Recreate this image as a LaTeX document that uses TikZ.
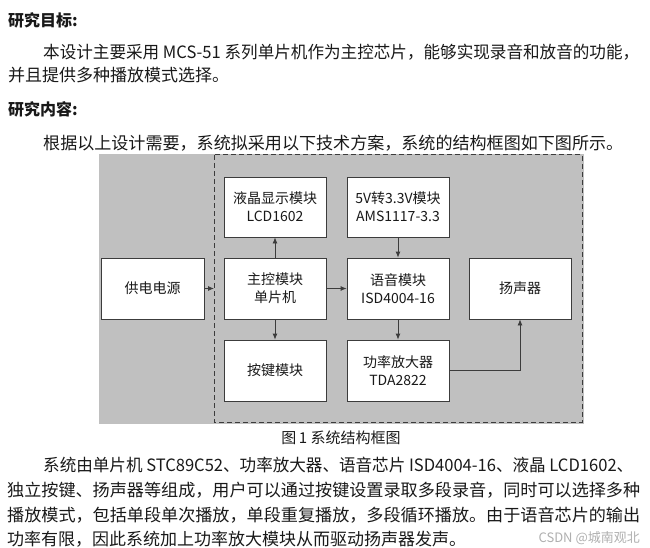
\documentclass[tikz,border=0pt]{standalone}
\usepackage{fontspec}
\usepackage{graphicx}
\setmainfont{Noto Sans CJK SC}
\usetikzlibrary{arrows.meta}
\definecolor{bggray}{RGB}{192,192,192}
\definecolor{linegray}{RGB}{60,60,60}
\definecolor{txt}{RGB}{25,25,25}
\definecolor{wm}{RGB}{175,175,175}
\tikzset{
  para/.style={anchor=west, inner sep=0pt, text=txt, font=\fontsize{17}{19}\selectfont},
  head/.style={anchor=west, inner sep=0pt, text=txt, font=\fontsize{16}{18}\selectfont\bfseries},
  blk/.style={draw=linegray, line width=0.8pt, fill=white, minimum width=102pt, minimum height=61pt,
    inner sep=0pt, align=center, text=txt, font=\fontsize{14}{18}\selectfont},
  arr/.style={draw=linegray, line width=0.8pt, -{Latex[length=6pt,width=5pt]}},
}
\newcommand{\jline}[2]{\resizebox{#1}{\height}{#2}}
\begin{document}
\begin{tikzpicture}[x=1pt,y=-1pt]
\useasboundingbox (0,0) rectangle (650,548);
% text top
\node[head] (h1) at (8,20) {研究目标:};
\node[para] (p1) at (43,52) {\jline{596pt}{本设计主要采用 MCS-51 系列单片机作为主控芯片，能够实现录音和放音的功能，}};
\node[para] (p2) at (8,75) {并且提供多种播放模式选择。};
\node[head] (h2) at (8,109) {研究内容:};
\node[para] (p3) at (43,143) {\jline{580pt}{根据以上设计需要，系统拟采用以下技术方案，系统的结构框图如下图所示。}};
% diagram background
\fill[bggray] (99,154) rectangle (584,424);
\draw[linegray, line width=1pt, dash pattern=on 5pt off 3pt] (214,155) rectangle (582,422);
\coordinate (dw) at (214,288.5);
% blocks
\node[blk, minimum width=103pt] (psu) at (152.5,288.5) {供电电源};
\node[blk] (mcu) at (275,288.5) {主控模块\\单片机};
\node[blk, minimum height=60pt] (lcd) at (275,207) {液晶显示模块\\LCD1602};
\node[blk, minimum height=60pt] (pwr) at (398,207) {5V转3.3V模块\\AMS1117-3.3};
\node[blk] (voice) at (398,288.5) {语音模块\\ISD4004-16};
\node[blk] (spk) at (520,288.5) {扬声器};
\node[blk] (key) at (275,370.5) {按键模块};
\node[blk] (amp) at (398,370.5) {功率放大器\\TDA2822};
% connectors
\draw[arr] (psu.east) -- (dw);
\draw[arr] (mcu.east) -- (voice.west);
\draw[arr] (mcu.north) -- (lcd.south);
\draw[arr] (mcu.south) -- (key.north);
\draw[arr] (pwr.south) -- (voice.north);
\draw[arr] (voice.south) -- (amp.north);
\draw[arr] (amp.east) -| (spk.south);
% caption and bottom text
\node[para, anchor=center, font=\fontsize{15}{17}\selectfont] (cap) at (341,438) {图\,1 系统结构框图};
\node[para] (q1) at (43,465) {\jline{590pt}{系统由单片机 STC89C52、功率放大器、语音芯片 ISD4004-16、液晶 LCD1602、}};
\node[para] (q2) at (7,490) {\jline{633pt}{独立按键、扬声器等组成，用户可以通过按键设置录取多段录音，同时可以选择多种}};
\node[para] (q3) at (7,515) {\jline{633pt}{播放模式，包括单段单次播放，单段重复播放，多段循环播放。由于语音芯片的输出}};
\node[para] (q4) at (7,539) {功率有限，因此系统加上功率放大模块从而驱动扬声器发声。};
\node[anchor=east, inner sep=0pt, text=wm, font=\fontsize{13}{15}\selectfont] (wmk) at (640,538) {CSDN @城南观北};
\end{tikzpicture}
\end{document}
